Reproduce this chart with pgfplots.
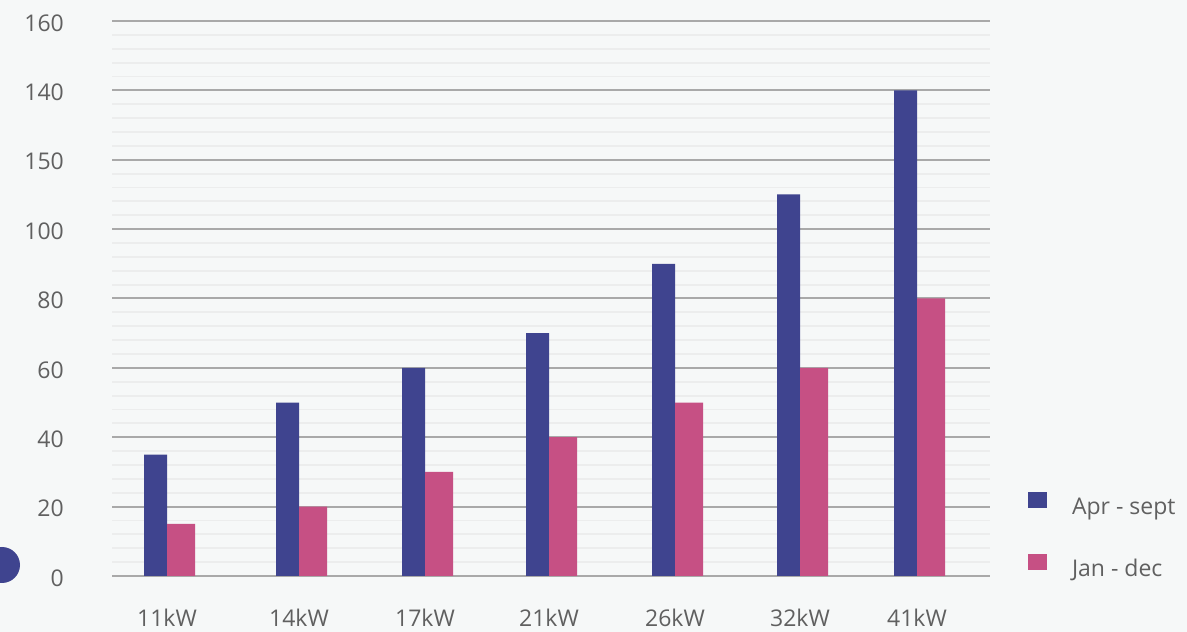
\documentclass[border=0pt]{standalone}
\usepackage{pgfplots}
\pgfplotsset{compat=1.18}
\usepackage{fontspec}
\setmainfont{Open Sans}
\definecolor{bg}{HTML}{F6F8F8}
\definecolor{barblue}{HTML}{3F448F}
\definecolor{barpink}{HTML}{C65084}
\definecolor{gridmajor}{HTML}{A9A9A9}
\definecolor{gridminor}{HTML}{ECEDED}
\definecolor{txt}{HTML}{606060}
\begin{document}
\begin{tikzpicture}
\useasboundingbox (0bp,0bp) rectangle (1187bp,632bp);
\fill[bg] (0bp,0bp) rectangle (1187bp,632bp);
\begin{scope}
\clip (0bp,0bp) rectangle (1187bp,632bp);
\fill[barblue] (2bp,67bp) circle (18bp);
\end{scope}
\begin{axis}[
  at={(112bp,56bp)}, anchor=south west,
  scale only axis, width=878bp, height=555bp,
  xmin=112, xmax=990, ymin=0, ymax=160,
  axis line style={draw=none},
  tick style={draw=none}, major tick length=0pt, minor tick length=0pt,
  ytick={0,20,...,160},
  yticklabels={0,20,40,60,80,100,150,140,160},
  minor y tick num=4,
  ymajorgrids, yminorgrids,
  major grid style={color=gridmajor, line width=2bp},
  minor grid style={color=gridminor, line width=1.8bp},
  xtick={167,299,425,549,675,800,917},
  xticklabels={11kW,14kW,17kW,21kW,26kW,32kW,41kW},
  ticklabel style={font=\fontsize{23bp}{27bp}\selectfont, text=txt, inner sep=0pt},
  yticklabel style={anchor=east, xshift=-48bp, yshift=-2bp},
  xticklabel style={anchor=base, yshift=-50bp},
  ybar, 
  legend style={at={(1,0)}, anchor=north west, xshift=38bp, yshift=84.4bp,
    draw=none, fill=none, inner sep=0pt, outer sep=0pt, row sep=38bp, column sep=25bp,
    font=\fontsize{23bp}{27bp}\selectfont, text=txt,
    nodes={inner sep=0pt}},
  legend cell align=left,
]
\addplot[draw=none, fill=barblue, bar width=23bp, bar shift=-11.5bp,
  legend image code/.code={\fill[barblue] (0bp,-1bp) rectangle (19bp,15bp);}]
  coordinates {(167,35) (299,50) (425,60) (549,70) (675,90) (800,110) (917,140)};
\addlegendentry{Apr - sept}
\addplot[draw=none, fill=barpink, bar width=28bp, bar shift=14bp,
  legend image code/.code={\fill[barpink] (0bp,-1bp) rectangle (19bp,15bp);}]
  coordinates {(167,15) (299,20) (425,30) (549,40) (675,50) (800,60) (917,80)};
\addlegendentry{Jan - dec}
\end{axis}
\end{tikzpicture}
\end{document}
